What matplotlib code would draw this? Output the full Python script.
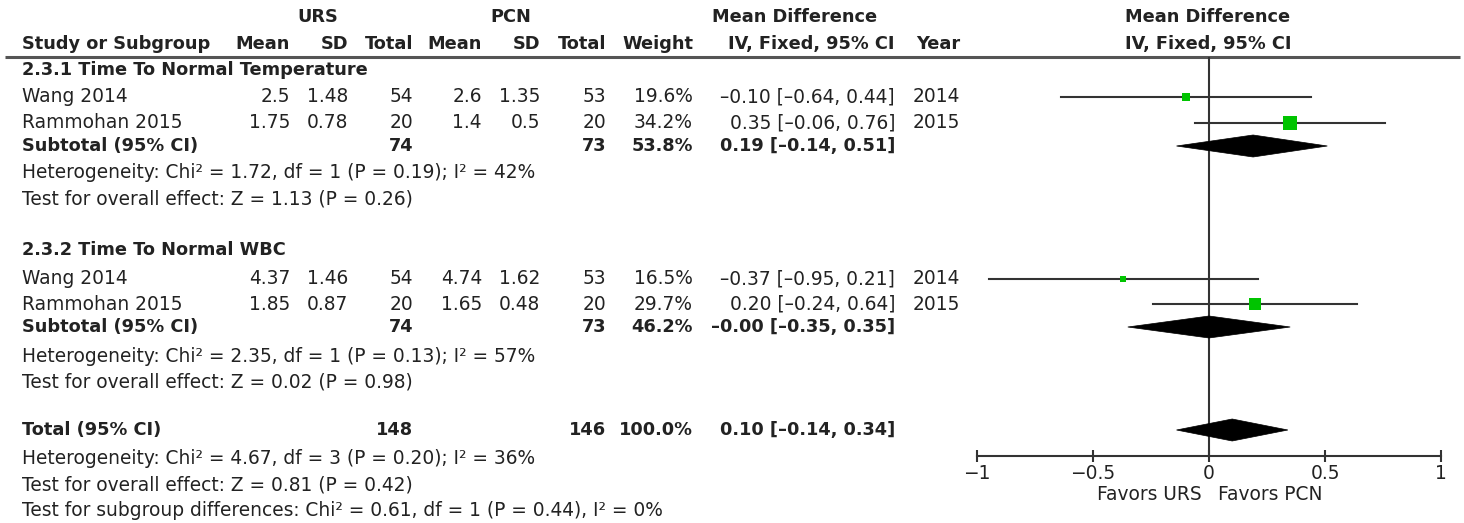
import matplotlib
matplotlib.use("Agg")
import matplotlib.pyplot as plt
from matplotlib.patches import Polygon

# ---------------- data ----------------
subgroup_titles = ["2.3.1 Time To Normal Temperature", "2.3.2 Time To Normal WBC"]
study_names = ["Wang 2014", "Rammohan 2015"]
study_years = [2014, 2015]

temp_urs_mean = [2.5, 1.75]
temp_urs_sd = [1.48, 0.78]
temp_urs_n = [54, 20]
temp_pcn_mean = [2.6, 1.4]
temp_pcn_sd = [1.35, 0.5]
temp_pcn_n = [53, 20]
temp_weight = [19.6, 34.2]
temp_md = [-0.10, 0.35]
temp_lo = [-0.64, -0.06]
temp_hi = [0.44, 0.76]
temp_sub = [74, 73, 53.8, 0.19, -0.14, 0.51]   # nU, nP, weight, md, lo, hi
temp_het = "Heterogeneity: Chi² = 1.72, df = 1 (P = 0.19); I² = 42%"
temp_test = "Test for overall effect: Z = 1.13 (P = 0.26)"

wbc_urs_mean = [4.37, 1.85]
wbc_urs_sd = [1.46, 0.87]
wbc_urs_n = [54, 20]
wbc_pcn_mean = [4.74, 1.65]
wbc_pcn_sd = [1.62, 0.48]
wbc_pcn_n = [53, 20]
wbc_weight = [16.5, 29.7]
wbc_md = [-0.37, 0.20]
wbc_lo = [-0.95, -0.24]
wbc_hi = [0.21, 0.64]
wbc_sub = [74, 73, 46.2, -0.0, -0.35, 0.35]
wbc_het = "Heterogeneity: Chi² = 2.35, df = 1 (P = 0.13); I² = 57%"
wbc_test = "Test for overall effect: Z = 0.02 (P = 0.98)"

total_sub = [148, 146, 100.0, 0.10, -0.14, 0.34]
total_lines = ["Heterogeneity: Chi² = 4.67, df = 3 (P = 0.20); I² = 36%",
               "Test for overall effect: Z = 0.81 (P = 0.42)",
               "Test for subgroup differences: Chi² = 0.61, df = 1 (P = 0.44), I² = 0%"]

x_ticks = [-1, -0.5, 0, 0.5, 1]
x_tick_labels = ["−1", "−0.5", "0", "0.5", "1"]

# ---------------- layout ----------------
W, H = 1464, 523
FS = 13.4
FSB = 12.8
TXT = "#222222"
plt.rcParams['font.family'] = ['DejaVu Sans']

fig = plt.figure(figsize=(W / 100, H / 100), dpi=100)
ax = fig.add_axes([0, 0, 1, 1])
ax.set_xlim(0, W)
ax.set_ylim(H, 0)
ax.axis("off")

# forest axes (x data -1..1, y in pixel rows)
fx0, fx1 = 977, 1441
fy_top, fy_bot = 57, 456
fax = fig.add_axes([fx0 / W, 1 - fy_bot / H, (fx1 - fx0) / W, (fy_bot - fy_top) / H])
fax.set_xlim(-1, 1)
fax.set_ylim(fy_bot, fy_top)
fax.patch.set_alpha(0)
for s in ["top", "right", "left"]:
    fax.spines[s].set_visible(False)
fax.spines["bottom"].set_linewidth(1.5)
fax.spines["bottom"].set_color("#333333")
fax.set_yticks([])
fax.set_xticks(x_ticks)
fax.set_xticklabels(x_tick_labels, fontsize=FS, color=TXT)
fax.tick_params(axis="x", direction="inout", length=9, width=1.5, color="#333333", pad=1)

# column right edges
col_mean_u, col_sd_u, col_tot_u = 290, 348, 413
col_mean_p, col_sd_p, col_tot_p = 482, 540, 606
col_w, col_ci, col_yr = 693, 895, 960
left = 22


def t(x, y, s, ha="left", bold=False):
    ax.text(x, y, s, ha=ha, va="center", fontsize=FSB if bold else FS, color=TXT,
            fontweight="bold" if bold else "normal")


def ci_str(md, lo, hi):
    return f"{md:.2f} [{lo:.2f}, {hi:.2f}]".replace("-", "–")


# headers
t(318, 17, "URS", "center", True)
t(511, 17, "PCN", "center", True)
t(795, 17, "Mean Difference", "center", True)
t(1208, 17, "Mean Difference", "center", True)
t(left, 44, "Study or Subgroup", bold=True)
t(col_mean_u, 44, "Mean", "right", True)
t(col_sd_u, 44, "SD", "right", True)
t(col_tot_u, 44, "Total", "right", True)
t(col_mean_p, 44, "Mean", "right", True)
t(col_sd_p, 44, "SD", "right", True)
t(col_tot_p, 44, "Total", "right", True)
t(col_w, 44, "Weight", "right", True)
t(col_ci, 44, "IV, Fixed, 95% CI", "right", True)
t(col_yr, 44, "Year", "right", True)
t(1208, 44, "IV, Fixed, 95% CI", "center", True)
ax.plot([5, 1460], [57, 57], color="#555555", lw=2.2, solid_capstyle="butt")

# zero line
fax.plot([0, 0], [fy_top, fy_bot], color="#333333", lw=1.5, zorder=1)

groups = [
    dict(title=subgroup_titles[0], um=temp_urs_mean, us=temp_urs_sd, un=temp_urs_n,
         pm=temp_pcn_mean, ps=temp_pcn_sd, pn=temp_pcn_n, w=temp_weight, md=temp_md,
         lo=temp_lo, hi=temp_hi, sub=temp_sub, het=temp_het, test=temp_test,
         rows=[70, 97, 123, 146, 172, 199]),
    dict(title=subgroup_titles[1], um=wbc_urs_mean, us=wbc_urs_sd, un=wbc_urs_n,
         pm=wbc_pcn_mean, ps=wbc_pcn_sd, pn=wbc_pcn_n, w=wbc_weight, md=wbc_md,
         lo=wbc_lo, hi=wbc_hi, sub=wbc_sub, het=wbc_het, test=wbc_test,
         rows=[250, 279, 304, 327, 356, 382]),
]

DH = 11  # diamond half-height in px


def diamond(md, lo, hi, y):
    fax.add_patch(Polygon([(lo, y), (md, y - DH), (hi, y), (md, y + DH)],
                          closed=True, facecolor="black", edgecolor="black",
                          lw=0.5, zorder=3, clip_on=False))


for g in groups:
    r = g["rows"]
    t(left, r[0], g["title"], bold=True)
    for i in range(2):
        y = r[1 + i]
        t(left, y, study_names[i])
        t(col_mean_u, y, str(g["um"][i]), "right")
        t(col_sd_u, y, str(g["us"][i]), "right")
        t(col_tot_u, y, str(g["un"][i]), "right")
        t(col_mean_p, y, str(g["pm"][i]), "right")
        t(col_sd_p, y, str(g["ps"][i]), "right")
        t(col_tot_p, y, str(g["pn"][i]), "right")
        t(col_w, y, f"{g['w'][i]:.1f}%", "right")
        t(col_ci, y, ci_str(g["md"][i], g["lo"][i], g["hi"][i]), "right")
        t(col_yr, y, str(study_years[i]), "right")
        fax.plot([g["lo"][i], g["hi"][i]], [y, y], color="#333333", lw=1.5, zorder=2,
                 clip_on=False)
        fax.plot([g["md"][i]], [y], marker="s", linestyle="none", color="#00c400",
                 markersize=g["w"][i] * 0.28, markeredgewidth=0, zorder=4, clip_on=False)
    s = g["sub"]
    ys = r[3]
    t(left, ys, "Subtotal (95% CI)", bold=True)
    t(col_tot_u, ys, str(s[0]), "right", True)
    t(col_tot_p, ys, str(s[1]), "right", True)
    t(col_w, ys, f"{s[2]:.1f}%", "right", True)
    t(col_ci, ys, ci_str(s[3], s[4], s[5]), "right", True)
    diamond(s[3], s[4], s[5], ys)
    t(left, r[4], g["het"])
    t(left, r[5], g["test"])

# total
yt = 430
s = total_sub
t(left, yt, "Total (95% CI)", bold=True)
t(col_tot_u, yt, str(s[0]), "right", True)
t(col_tot_p, yt, str(s[1]), "right", True)
t(col_w, yt, f"{s[2]:.1f}%", "right", True)
t(col_ci, yt, ci_str(s[3], s[4], s[5]), "right", True)
diamond(s[3], s[4], s[5], yt)
for yy, line in zip([459, 485, 511], total_lines):
    t(left, yy, line)

# favours labels
t(1202, 495, "Favors URS", "right")
t(1218, 495, "Favors PCN", "left")

fig.savefig("out.png", dpi=100)
